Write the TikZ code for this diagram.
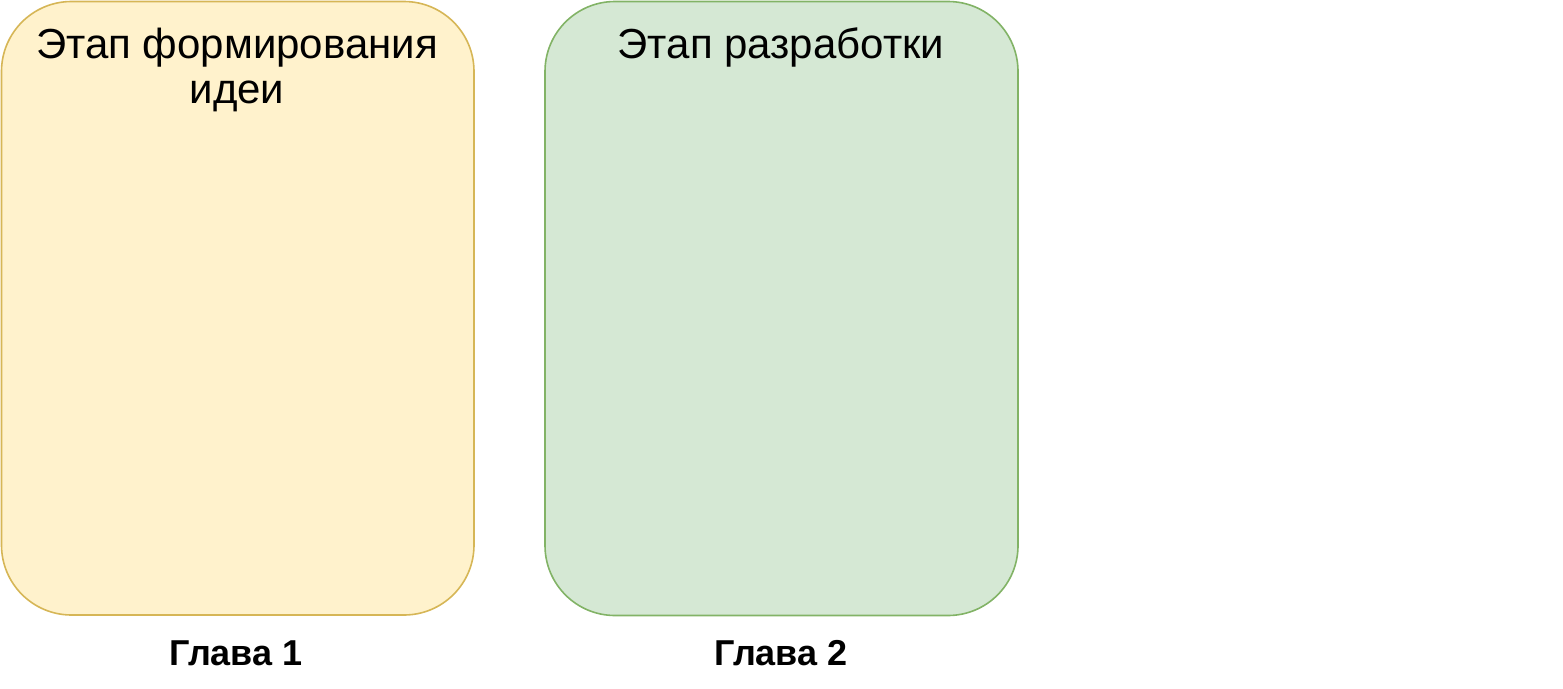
\documentclass[tikz,border=0pt]{standalone}
\usepackage{fontspec}
\setmainfont{Liberation Sans}
\begin{document}
\begin{tikzpicture}[x=1pt,y=-1pt,
  stagebox/.style={rounded corners=70pt, line width=1.6pt},
  yellowbox/.style={stagebox, draw=yellowline, fill=yellowfill},
  greenbox/.style={stagebox, draw=greenline, fill=greenfill},
  stagetitle/.style={font=\fontsize{42}{48}\selectfont, align=center, inner sep=0pt, anchor=base},
  chapter/.style={font=\bfseries\fontsize{36}{42}\selectfont, inner sep=0pt, anchor=base}]
\definecolor{yellowfill}{HTML}{FFF2CC}
\definecolor{yellowline}{HTML}{D6B656}
\definecolor{greenfill}{HTML}{D5E8D4}
\definecolor{greenline}{HTML}{82B366}
\useasboundingbox (0,0) rectangle (1563,688);
\draw[yellowbox] (1.5,1.5) rectangle (474,615) coordinate (b1);
\draw[greenbox] (545,1.5) rectangle (1018,615.5) coordinate (b2);
\node[stagetitle] (t1) at (237,58) {Этап формирования};
\node[stagetitle] (t1b) at (237,103) {идеи};
\node[stagetitle] (t2) at (781,58) {Этап разработки};
\node[chapter] (c1) at (236,665) {Глава 1};
\node[chapter] (c2) at (781,665) {Глава 2};
\end{tikzpicture}
\end{document}
